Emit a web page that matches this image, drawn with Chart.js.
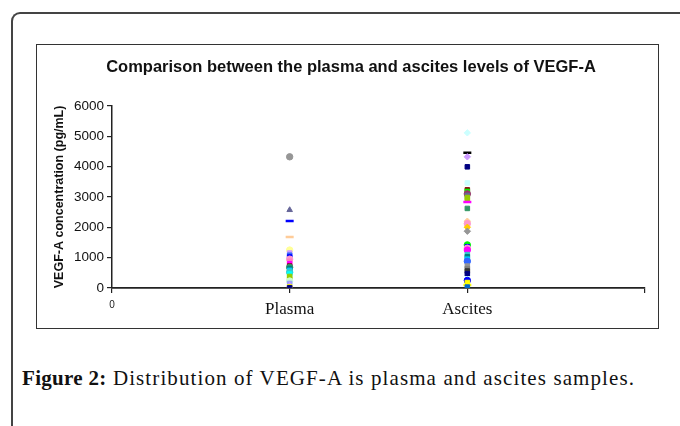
<!DOCTYPE html>
<html>
<head>
<meta charset="utf-8">
<script src="https://cdn.jsdelivr.net/npm/chart.js@4/dist/chart.umd.min.js"></script>
<style>
  body { margin: 0; background: #fff; width: 680px; height: 426px; overflow: hidden; position: relative; }
  .frame { position: absolute; left: 11px; top: 12px; width: 720px; height: 460px;
           border-left: 2px solid #444; border-top: 2px solid #444; border-top-left-radius: 9px; }
  .box { position: absolute; left: 36px; top: 44px; width: 623px; height: 285px;
         border: 1px solid #333; box-sizing: border-box; }
  #chart { position: absolute; left: 37px; top: 45px; }
  .caption { position: absolute; left: 22px; top: 366px; font: 21px/24px "Liberation Serif", "Times New Roman", serif;
             letter-spacing: 1.1px; color: #111; white-space: nowrap; }
  .caption b { font-weight: bold; letter-spacing: 0.3px; }
</style>
</head>
<body>
<div class="frame"></div>
<div class="box"></div>
<canvas id="chart" width="621" height="283"></canvas>
<div class="caption"><b>Figure 2:</b> Distribution of VEGF-A is plasma and ascites samples.</div>

<script>
/* ===== Values ===== */
const categories = ['Plasma', 'Ascites'];
const xTickLabels = ['0', 'Plasma', 'Ascites', ''];
const yMin = 0, yMax = 6000, yStep = 1000;

const plasmaValues = [4320, 2570, 2210, 1680, 1250, 1150, 1080, 1020, 950, 880, 800, 720, 680, 640,
                      580, 520, 460, 380, 300, 230, 150, 90, 40, 10];
const ascitesValues = [5110, 4450, 4320, 3990, 3460, 3230, 3180, 3100, 3050, 2980, 2900, 2830, 2620,
                       2200, 2120, 2000, 1870, 1420, 1360, 1310, 1250, 1100, 1030, 950, 880, 720,
                       640, 560, 470, 300, 250, 180, 100, 30];

/* ===== Marker styles (Excel-like palette) ===== */
const plasmaColors = ['#969696', '#666699', '#0000FF', '#FFCC99', '#FFFF99', '#CC99FF', '#3366FF', '#0000FF',
                      '#FF99CC', '#FF80C0', '#FF00FF', '#800000', '#339966', '#008080', '#00CCFF', '#33CCCC',
                      '#00FFFF', '#99CC00', '#99CC00', '#CCFFCC', '#9999FF', '#CC99FF', '#FFFF00', '#000080'];
const plasmaShapes = ['circle', 'triangle', 'line', 'line', 'circle', 'rect', 'rect', 'rect',
                      'circle', 'rect', 'rect', 'rect', 'circle', 'rect', 'rect', 'circle',
                      'rect', 'rect', 'rect', 'circle', 'rect', 'triangle', 'rect', 'rect'];
const ascitesColors = ['#CCFFFF', '#000000', '#CC99FF', '#000080', '#CCFFFF', '#800000', '#00FF00', '#993366',
                       '#666699', '#99CC00', '#99CC00', '#FF00FF', '#339966', '#FFCC99', '#FF99CC', '#FFCC00',
                       '#969696', '#00FF00', '#0000FF', '#FF99CC', '#FF00FF', '#33CCCC', '#008080', '#00CCFF',
                       '#3366FF', '#969696', '#808080', '#333333', '#000080', '#CCFFFF', '#0000FF', '#FFFF00',
                       '#FFFF00', '#0066CC'];
const ascitesShapes = ['rectRot', 'line', 'rectRot', 'rect', 'rect', 'rect', 'rect', 'circle',
                       'rect', 'rect', 'rect', 'line', 'rect', 'rectRot', 'circle', 'rectRot',
                       'rectRot', 'circle', 'rect', 'circle', 'circle', 'rect', 'rect', 'rect',
                       'circle', 'rect', 'rect', 'rect', 'rect', 'rect', 'circle', 'rect',
                       'line', 'rect'];

function pointsFor(values, xIndex) {
  return values.map(v => ({ x: xIndex, y: v }));
}

function datasetFor(label, values, xIndex, colors, shapes) {
  return {
    label,
    data: pointsFor(values, xIndex),
    backgroundColor: colors,
    borderColor: colors,
    pointStyle: shapes,
    pointRadius: shapes.map(s => (s === 'line' ? 4 : 3.2)),
    pointBorderWidth: shapes.map(s => (s === 'line' ? 2.5 : 1))
  };
}

const ctx = document.getElementById('chart').getContext('2d');

// left padding shifts the title centre to where the original has it
const padLeft = 20;

new Chart(ctx, {
  type: 'scatter',
  data: {
    datasets: [
      datasetFor(categories[0], plasmaValues, 1, plasmaColors, plasmaShapes),
      datasetFor(categories[1], ascitesValues, 2, ascitesColors, ascitesShapes)
    ]
  },
  options: {
    responsive: false,
    animation: false,
    layout: { padding: { left: padLeft, right: 13, top: 0, bottom: 0 } },
    plugins: {
      legend: { display: false },
      tooltip: { enabled: false },
      title: {
        display: true,
        text: 'Comparison between the plasma and ascites levels of VEGF-A',
        color: '#111',
        font: { family: '"Liberation Sans", Arial, sans-serif', size: 16.5, weight: 'bold' },
        padding: { top: 13, bottom: 28 }
      }
    },
    scales: {
      x: {
        type: 'linear',
        min: 0,
        max: xTickLabels.length - 1,
        afterFit: scale => { scale.height = 40; },
        ticks: {
          stepSize: 1,
          autoSkip: false,
          maxRotation: 0,
          padding: 6,
          color: ctx => (ctx.index === 0 ? '#222' : '#111'),
          font: ctx => (ctx.index === 0
            ? { family: '"Liberation Sans", Arial, sans-serif', size: 10 }
            : { family: '"Liberation Serif", "Times New Roman", serif', size: 17 }),
          callback: (v) => xTickLabels[v] ?? ''
        },
        grid: { drawOnChartArea: false, tickLength: 5, color: '#222', lineWidth: 1.2 },
        border: { display: true, color: '#222', width: 1.8 }
      },
      y: {
        min: yMin,
        max: yMax,
        afterFit: scale => { scale.width = 75 - padLeft; },
        ticks: {
          stepSize: yStep,
          padding: 3,
          color: '#111',
          font: { family: '"Liberation Sans", Arial, sans-serif', size: 13.5 },
          callback: v => String(v)
        },
        title: {
          display: true,
          text: 'VEGF-A concentration (pg/mL)',
          color: '#111',
          font: { family: '"Liberation Sans", Arial, sans-serif', size: 12.5, weight: 'bold' },
          padding: { top: 15 - padLeft, bottom: 0 }
        },
        grid: { drawOnChartArea: false, tickLength: 5, color: '#222', lineWidth: 1.2 },
        border: { display: true, color: '#222', width: 1.5 }
      }
    }
  }
});
</script>
</body>
</html>
